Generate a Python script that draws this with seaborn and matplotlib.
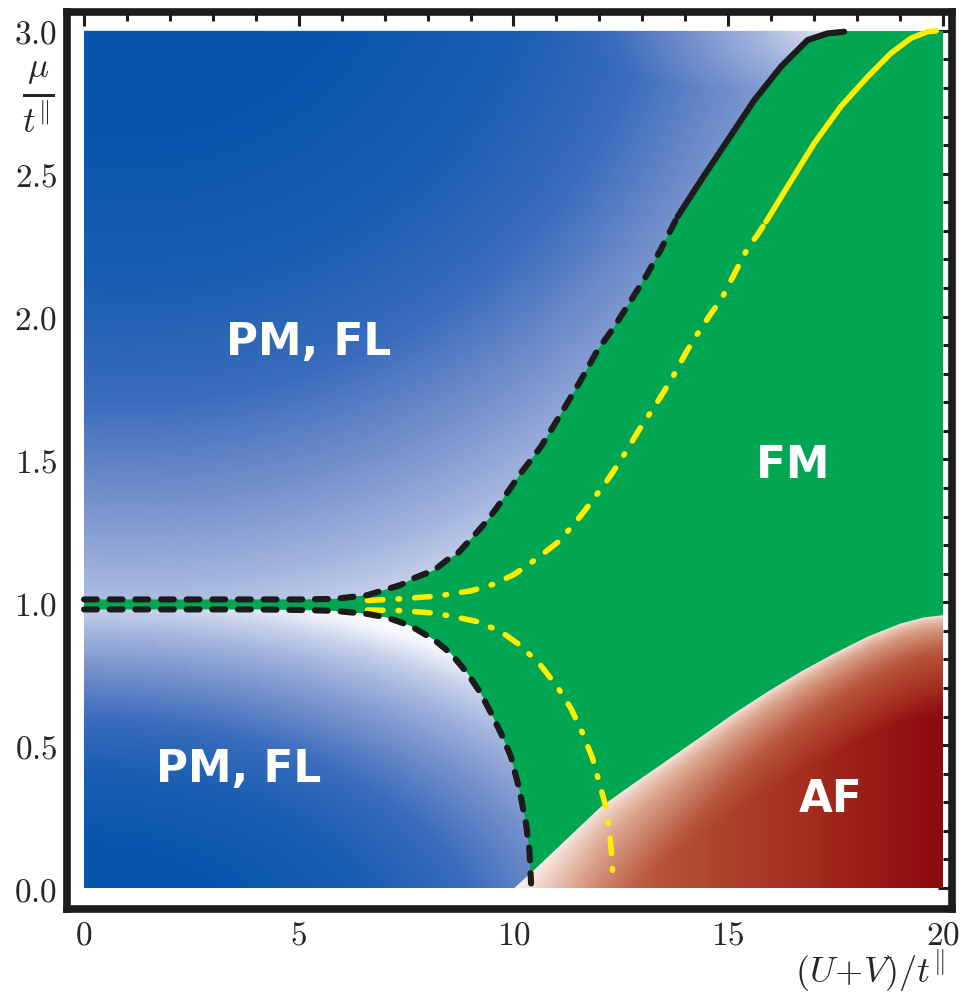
import numpy as np
import matplotlib
matplotlib.use("Agg")
import matplotlib.pyplot as plt
import seaborn as sns
from matplotlib.colors import LinearSegmentedColormap
from matplotlib.patches import Polygon
from matplotlib.ticker import MultipleLocator, FuncFormatter

# upper PM/FM boundary (black), dashed part then solid part
upper_x = [0, 1, 2, 3, 4, 5.05, 5.83, 6.60, 7.38, 7.69, 8.16, 8.47, 8.70, 9.09, 9.40, 9.63,
           10.17, 10.64, 11.11, 11.57, 11.96, 12.35, 12.74, 13.10, 13.43, 13.82,
           14.37, 14.99, 15.61, 16.23, 16.85, 17.31, 17.70]
upper_y = [1.010, 1.010, 1.010, 1.010, 1.010, 1.010, 1.012, 1.025, 1.061, 1.085, 1.113, 1.150,
           1.171, 1.235, 1.288, 1.335, 1.452, 1.545, 1.661, 1.778, 1.883, 1.965, 2.058,
           2.145, 2.235, 2.350, 2.478, 2.618, 2.758, 2.875, 2.968, 2.991, 2.997]
upper_solid_from = 25

# lower PM/FM boundary (black dashed)
lower_x = [0, 1, 2, 3, 4, 5.05, 5.83, 6.61, 7.07, 7.61, 8.16, 8.54, 8.93, 9.24, 9.48,
           9.71, 9.94, 10.14, 10.29, 10.37, 10.41]
lower_y = [0.975, 0.975, 0.975, 0.975, 0.975, 0.973, 0.970, 0.959, 0.946, 0.917, 0.868,
           0.821, 0.751, 0.681, 0.611, 0.541, 0.460, 0.343, 0.226, 0.133, 0.016]

# yellow lines
yel_up_x = [6.60, 7.07, 7.38, 8.23, 9.01, 9.55, 10.02, 10.56, 11.03, 11.42, 11.73, 12.19,
            12.50, 12.97, 13.28, 13.67, 14.05, 14.29, 14.60, 14.83, 15.45, 15.68, 15.88,
            16.38, 17.00, 17.62, 18.25, 18.79, 19.25, 19.64, 19.84]
yel_up_y = [1.006, 1.010, 1.012, 1.022, 1.040, 1.064, 1.098, 1.155, 1.210, 1.275, 1.335,
            1.428, 1.498, 1.615, 1.684, 1.778, 1.883, 1.941, 2.011, 2.058, 2.239, 2.286,
            2.332, 2.455, 2.606, 2.735, 2.840, 2.922, 2.974, 2.997, 3.0]
yel_solid_from = 22

yel_lo_x = [6.60, 7.38, 8.16, 8.70, 9.17, 9.71, 10.17, 10.64, 11.03, 11.34, 11.61, 11.84,
            12.00, 12.15, 12.23, 12.29, 12.32]
yel_lo_y = [0.973, 0.971, 0.962, 0.947, 0.932, 0.897, 0.848, 0.778, 0.702, 0.628, 0.541,
            0.454, 0.367, 0.285, 0.203, 0.110, 0.016]

# AF boundary
af_x = [10.02, 10.48, 11.26, 12.04, 12.81, 13.59, 14.37, 15.14, 15.92, 16.69, 17.47,
        18.25, 19.02, 19.56, 20.0]
af_y = [0.0, 0.063, 0.174, 0.285, 0.367, 0.448, 0.530, 0.611, 0.687, 0.757, 0.821,
        0.880, 0.926, 0.947, 0.955]

region_labels = ["PM, FL", "PM, FL", "FM", "AF"]
label_x = [5.24, 3.59, 16.5, 17.39]
label_y = [1.91, 0.413, 1.48, 0.308]

GREEN = "#00a651"
BLACK = "#1c1c1c"
YELLOW = "#ffee00"

sns.set_style("white")
plt.rcParams["font.family"] = ["DejaVu Sans"]
plt.rcParams["mathtext.fontset"] = "cm"

fig = plt.figure(figsize=(9.63, 9.99), dpi=100)
ax = fig.add_axes([67 / 963, 90 / 999, 885 / 963, 897 / 999])

ax.fill_between([0, 20], 0, 3, color=GREEN, lw=0, zorder=1)

# shading of the phases
gx = np.linspace(0, 20, 1200)
gy = np.linspace(0, 3, 600)
X, Y = np.meshgrid(gx, gy)

blue_stops = [(0.0, "#0552ad"), (0.3, "#0a56ae"), (0.5, "#1a5fb3"), (0.65, "#3a6cbc"),
              (0.8, "#7a94cd"), (0.9, "#a3b5de"), (0.97, "#c8d2ea"), (1.03, "#f3f5fb"),
              (1.06, "#ffffff")]
blue_cmap = LinearSegmentedColormap.from_list("pm", [(p / 1.06, c) for p, c in blue_stops])
af_cmap = LinearSegmentedColormap.from_list(
    "af", [(0, "#fbf1ec"), (0.25, "#dca68f"), (0.55, "#b8573c"), (0.82, "#a52e1f"),
           (1.0, "#8c0b0e")])

r_ell = np.sqrt(((X - 1.0) / 19.0) ** 2 + ((Y - 3.4) / 2.6) ** 2)
blob = 1.05 - 0.9 * np.sqrt(((X - 17.6) / 12.0) ** 2 + ((Y - 3.05) / 1.2) ** 2)
r_up = np.maximum(r_ell, blob)
r_lo = np.sqrt(((X + 0.5) / 15.0) ** 2 + ((Y + 0.2) / 1.22) ** 2)
yb = np.interp(gx, af_x, af_y)[None, :]
depth = np.clip((yb - Y) / 0.35, 0, 1) ** 0.6
xt = np.clip((X - 9.9) / 10.0, 0, 1) ** 0.55
af_field = depth * xt

up_poly = np.column_stack([[0] + upper_x + [17.70], [3.0] + upper_y + [3.0]])
lo_poly = np.column_stack([[0] + lower_x + [10.42], [0.0] + lower_y + [0.0]])
af_poly = np.column_stack([af_x + [20.0], af_y + [0.0]])

for field, pts, cmap, vmax, z in [(r_up, up_poly, blue_cmap, 1.06, 2),
                                  (r_lo, lo_poly, blue_cmap, 1.06, 2),
                                  (af_field, af_poly, af_cmap, 1.0, 3)]:
    im = ax.imshow(field, cmap=cmap, vmin=0, vmax=vmax, extent=(0, 20, 0, 3),
                   origin="lower", aspect="auto", interpolation="bilinear", zorder=z)
    patch = Polygon(pts, closed=True, transform=ax.transData, fc="none", ec="none")
    ax.add_patch(patch)
    im.set_clip_path(patch)


def line(xs, ys, **kw):
    sns.lineplot(x=xs, y=ys, ax=ax, sort=False, estimator=None, errorbar=None, **kw)


dash_k = dict(color=BLACK, lw=4.4, linestyle=(0, (2.1, 2.1)), dash_capstyle="round", zorder=5)
solid_k = dict(color=BLACK, lw=4.4, solid_capstyle="round", zorder=5)
dd_k = dict(color=YELLOW, lw=4.0, linestyle=(0, (2.8, 2.7, 0.3, 2.7)),
            dash_capstyle="round", zorder=4)
ysolid_k = dict(color=YELLOW, lw=4.0, solid_capstyle="round", zorder=4)

line(upper_x[:upper_solid_from + 1], upper_y[:upper_solid_from + 1], **dash_k)
line(upper_x[upper_solid_from:], upper_y[upper_solid_from:], **solid_k)
line(lower_x, lower_y, **dash_k)
line(yel_up_x[:yel_solid_from + 1], yel_up_y[:yel_solid_from + 1], **dd_k)
line(yel_up_x[yel_solid_from:], yel_up_y[yel_solid_from:], **ysolid_k)
line(yel_lo_x, yel_lo_y, **dd_k)

for txt, tx, ty in zip(region_labels, label_x, label_y):
    ax.text(tx, ty, txt, color="white", fontsize=31.5, fontweight="bold",
            ha="center", va="center", zorder=6)

ax.set_xlim(-0.396, 20.21)
ax.set_ylim(-0.0735, 3.066)
ax.set_xlabel("")
ax.set_ylabel("")

ax.xaxis.set_major_locator(MultipleLocator(5))
ax.xaxis.set_minor_locator(MultipleLocator(1))
ax.yaxis.set_major_locator(MultipleLocator(0.5))
ax.yaxis.set_minor_locator(MultipleLocator(0.1))
ax.xaxis.set_major_formatter(FuncFormatter(lambda v, p: f"${v:g}$"))
ax.yaxis.set_major_formatter(FuncFormatter(lambda v, p: f"${v:.1f}$"))
ax.tick_params(which="both", direction="in", top=True, right=True, width=2.2, color=BLACK)
ax.tick_params(which="major", length=10, labelsize=24, pad=7)
ax.tick_params(which="minor", length=6.5)

for s in ax.spines.values():
    s.set_linewidth(5.5)
    s.set_color(BLACK)
    s.set_zorder(10)

fig.text(38 / 963, 1 - 97 / 999, r"$\frac{\mu}{t^{\Vert}}$", fontsize=36,
         ha="center", va="center")
fig.text(870 / 963, 1 - 971 / 999, r"$(U\!+\!V)/t^{\Vert}$", fontsize=26,
         ha="center", va="center")

fig.savefig("out.png", dpi=100)
